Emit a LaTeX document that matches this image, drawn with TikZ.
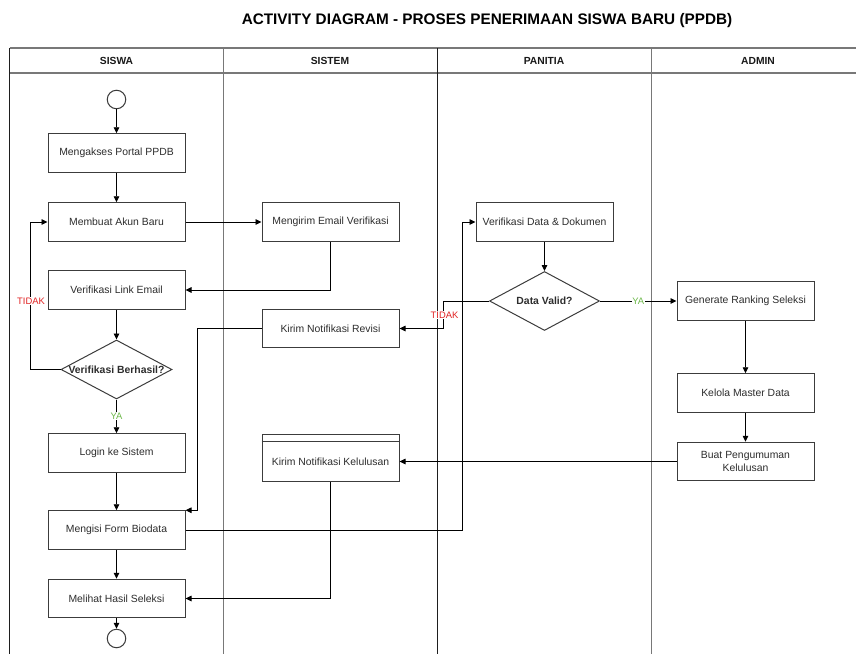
\documentclass[tikz,border=0pt]{standalone}
\usepackage{fontspec}
\setmainfont{Liberation Sans}
\usetikzlibrary{arrows.meta,shapes.geometric}

\definecolor{txt}{RGB}{45,45,45}
\definecolor{boxline}{RGB}{60,60,60}
\definecolor{lanedark}{RGB}{30,30,30}
\definecolor{lanegray}{RGB}{120,120,120}
\definecolor{noRed}{RGB}{225,35,35}
\definecolor{yesGreen}{RGB}{110,185,75}

\tikzset{
  act/.style={draw=boxline, line width=1pt, fill=white, minimum width=137pt,
    minimum height=38.5pt, inner sep=0pt, align=center, text=txt,
    font=\fontsize{10.4}{12.4}\selectfont},
  decide/.style={diamond, draw=boxline, line width=1pt, fill=white, inner sep=0pt,
    minimum width=111pt, minimum height=59pt},
  decidetext/.style={text=txt, font=\bfseries\fontsize{10.4}{12.4}\selectfont},
  terminal/.style={circle, draw=boxline, line width=1pt, fill=white,
    minimum size=18.5pt, inner sep=0pt},
  flow/.style={draw=black, line width=0.9pt, -{Triangle[length=6pt,width=5.5pt]}},
  lanehead/.style={text=black!90, font=\bfseries\fontsize{10.3}{12}\selectfont},
  condlbl/.style={fill=white, inner sep=0.8pt, font=\fontsize{9.4}{10}\selectfont}
}

\begin{document}
\begin{tikzpicture}[x=1pt,y=-1pt]
\useasboundingbox (0,0) rectangle (856,653);
\clip (0,0) rectangle (856,653);

% title
\node[text=black, font=\bfseries\fontsize{15.3}{18}\selectfont] (title) at (487,21)
  {ACTIVITY DIAGRAM - PROSES PENERIMAAN SISWA BARU (PPDB)};

% swimlane frame
\draw[lanegray, line width=1.2pt] (9.5,48) -- (880,48);
\draw[lanegray, line width=1.2pt] (9.5,73) -- (880,73);
\draw[lanedark, line width=1pt] (9.5,48) -- (9.5,680);
\draw[lanegray, line width=1pt] (223,48) -- (223,680);
\draw[lanedark, line width=1pt] (437,48) -- (437,680);
\draw[lanegray, line width=1pt] (651,48) -- (651,680);

\node[lanehead] (hsiswa) at (116.5,60.5) {SISWA};
\node[lanehead] (hsistem) at (330,60.5) {SISTEM};
\node[lanehead] (hpanitia) at (544,60.5) {PANITIA};
\node[lanehead] (hadmin) at (758,60.5) {ADMIN};

% SISWA lane
\node[terminal] (start) at (116.5,99.5) {};
\node[act] (portal) at (116.5,153) {Mengakses Portal PPDB};
\node[act] (akun) at (116.5,222) {Membuat Akun Baru};
\node[act] (link) at (116.5,290) {Verifikasi Link Email};
\node[decide, label={[decidetext]center:Verifikasi Berhasil?}] (verif) at (116.5,369.5) {};
\node[act] (login) at (116.5,453) {Login ke Sistem};
\node[act] (form) at (116.5,530) {Mengisi Form Biodata};
\node[act] (hasil) at (116.5,598.5) {Melihat Hasil Seleksi};
\node[terminal] (finish) at (116.5,638.5) {};

% SISTEM lane
\node[act] (email) at (330.5,222) {Mengirim Email Verifikasi};
\node[act] (revisi) at (330.5,328.5) {Kirim Notifikasi Revisi};
\node[act, minimum height=47pt,
  label={[yshift=-4pt, text=txt, font=\fontsize{10.4}{12.4}\selectfont]center:Kirim Notifikasi Kelulusan}]
  (lulus) at (330.5,457.5) {};
\draw[boxline, line width=1pt] ([yshift=-8pt]lulus.north west) -- ([yshift=-8pt]lulus.north east);

% PANITIA lane
\node[act] (verdata) at (544.5,222) {Verifikasi Data \& Dokumen};
\node[decide, minimum width=110pt, label={[decidetext]center:Data Valid?}] (valid) at (544.5,301) {};

% ADMIN lane
\node[act] (ranking) at (745.5,301) {Generate Ranking Seleksi};
\node[act] (kelola) at (745.5,393) {Kelola Master Data};
\node[act] (umum) at (745.5,461.5) {Buat Pengumuman\\Kelulusan};

% connectors
\draw[flow] (start) -- (portal);
\draw[flow] (portal) -- (akun);
\draw[flow] (akun) -- (email);
\draw[flow] (email.south) |- (link.east);
\draw[flow] (link) -- (verif);
\draw[flow] (verif.west) -- ++(-30,0) |- (akun.west);
\node[condlbl, text=noRed] (tidak1) at (31,301) {TIDAK};
\draw[flow] (verif.south) -- node[condlbl, text=yesGreen] (ya1) {YA} (login.north);
\draw[flow] (login) -- (form);
\draw[flow] (revisi.west) -- ++(-64,0) |- (form.north east);
\coordinate (upturn) at (462.5,530);
\draw[flow] (form.east) -- (upturn) |- (verdata.west);
\draw[flow] (verdata) -- (valid);
\draw[flow] (valid.west) -- ++(-45.5,0) |- (revisi.east);
\node[condlbl, text=noRed] (tidak2) at (444.5,315) {TIDAK};
\draw[flow] (valid.east) -- node[condlbl, text=yesGreen] (ya2) {YA} (ranking.west);
\draw[flow] (ranking) -- (kelola);
\draw[flow] (kelola) -- (umum);
\draw[flow] (umum.west) -- (umum.west -| lulus.east);
\draw[flow] (lulus.south) |- (hasil.east);
\draw[flow] (form) -- (hasil);
\draw[flow] (hasil) -- (finish);
\end{tikzpicture}
\end{document}
